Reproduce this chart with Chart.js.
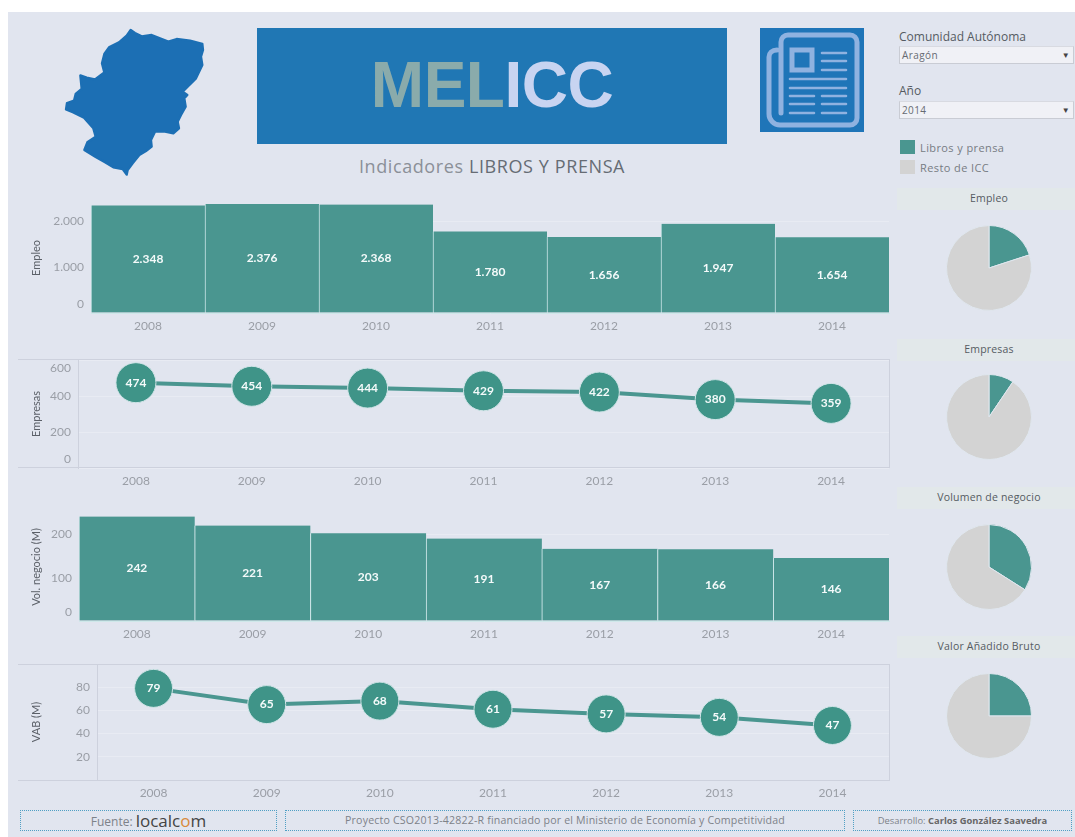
<!DOCTYPE html>
<html lang="es">
<head>
<meta charset="utf-8">
<script src="https://cdn.jsdelivr.net/npm/chart.js@4"></script>
<style>
html,body{margin:0;padding:0;background:#fff;width:1075px;height:837px;overflow:hidden}
#dash{position:absolute;left:8px;top:12px;width:1067px;height:825px;background:#e1e5ef}
.a{position:absolute;white-space:nowrap;font-family:Lato,sans-serif}
canvas{position:absolute}
.frame{position:absolute;left:18px;width:871px;border:1px solid #cdd1dd;border-left:none;box-sizing:content-box}
.band{position:absolute;left:897px;width:178px;height:22px;box-sizing:border-box;padding-left:6px;background:#e2e8ea;color:#555b62;font:10.5px "Open Sans",sans-serif;text-align:center;line-height:21px;letter-spacing:.2px}
.sel{position:absolute;left:899px;width:175px;height:18px;box-sizing:border-box;background:#f0f1f6;border:1px solid #c9ccd4;border-top-color:#d8dae1;font:10px "Open Sans",sans-serif;color:#666b72;line-height:16px;padding-left:2px;letter-spacing:.4px}
.sel b{position:absolute;right:3px;top:0;font-size:8px;font-weight:400;color:#444}
.foot{position:absolute;top:810px;height:21px;box-sizing:border-box;border:1px dotted #4f9fc4;text-align:center;font:10.6px/19px "Open Sans",sans-serif;color:#7d8289}
</style>
</head>
<body>
<div id="dash"></div>

<svg class="a" style="left:40px;top:15px" width="180" height="170" viewBox="0 0 540 510"><polygon fill="#1c6fb4" stroke="#1c6fb4" stroke-width="7" stroke-linejoin="round" points="272,45 285,54 305,64 335,60 360,70 385,80 410,72 450,77 487,87 489,105 483,125 487,150 468,190 443,215 428,230 442,240 433,250 437,275 423,300 413,320 417,340 400,355 375,350 345,350 333,375 335,395 318,408 298,420 278,445 263,465 260,479 248,462 220,457 195,442 167,426 133,405 142,382 167,365 160,340 132,308 100,292 78,283 81,264 102,257 107,237 125,222 121,181 140,188 165,193 193,172 186,145 193,117 207,97 237,82 260,62"/></svg>

<div class="a" style="left:257px;top:28px;width:470px;height:116px;background:#2077b4;text-align:center;font:bold 64px/114px 'Liberation Sans',sans-serif;letter-spacing:-.5px"><span style="color:#8aabab">MEL</span><span style="color:#c8d4f1">ICC</span></div>
<div class="a" style="left:257px;top:155px;width:470px;text-align:center;font:18px/22px 'Open Sans',sans-serif;letter-spacing:.6px;color:#8b9098">Indicadores <span style="color:#666c74">LIBROS Y PRENSA</span></div>

<svg class="a" style="left:760px;top:28px" width="104" height="104" viewBox="0 0 104 104">
<rect width="104" height="104" fill="#1f75b8"/>
<g fill="none" stroke="#8fb2e0" stroke-linecap="round">
<path stroke-width="5" d="M21 85V14a7 7 0 0 1 7-7h62a7 7 0 0 1 7 7v76a7 7 0 0 1-7 7H20c-6 0-11-5-11-11V29c0-4 3-7 8-7"/>
<rect x="32" y="22" width="20" height="20" stroke-width="5"/>
<path stroke-width="2.6" d="M62 25h24M62 33h24M62 42h24M30 51h56M30 60h56M30 68h24M62 68h24M30 76h24M62 76h24M30 85h24M62 85h24"/>
</g></svg>

<div class="a" style="left:899px;top:29px;font:12px/16px 'Open Sans',sans-serif;color:#555b62">Comunidad Autónoma</div>
<div class="sel" style="top:46px">Aragón<b>▼</b></div>
<div class="a" style="left:899px;top:83px;font:12px/16px 'Open Sans',sans-serif;color:#555b62">Año</div>
<div class="sel" style="top:101px">2014<b>▼</b></div>
<div class="a" style="left:900px;top:140px;width:15px;height:14px;background:#4a9690"></div>
<div class="a" style="left:900px;top:160px;width:15px;height:14px;background:#d3d3d3"></div>
<div class="a" style="left:920px;top:140px;font:11px/15px 'Open Sans',sans-serif;letter-spacing:.4px;color:#777c83">Libros y prensa</div>
<div class="a" style="left:920px;top:160px;font:11px/15px 'Open Sans',sans-serif;letter-spacing:.4px;color:#777c83">Resto de ICC</div>

<div class="band" style="top:188px">Empleo</div>
<div class="band" style="top:339px">Empresas</div>
<div class="band" style="top:487px">Volumen de negocio</div>
<div class="band" style="top:636px">Valor Añadido Bruto</div>

<div class="frame" style="top:359px;height:107px"></div>
<div class="frame" style="top:664px;height:115px"></div>

<div class="foot" style="left:20px;width:257px;font-size:12px">Fuente: <span style="font-size:17px;color:#444;vertical-align:-1px">localc<span style="color:#d98a3a">o</span>m</span></div>
<div class="foot" style="left:285px;width:560px;letter-spacing:.18px">Proyecto CSO2013-42822-R financiado por el Ministerio de Economía y Competitividad</div>
<div class="foot" style="left:853px;width:219px;font-size:9.4px">Desarrollo: <b style="color:#666">Carlos González Saavedra</b></div>

<canvas id="cEmpleo"></canvas>
<canvas id="cEmpresas"></canvas>
<canvas id="cVolumen"></canvas>
<canvas id="cVab"></canvas>
<canvas id="pEmpleo"></canvas>
<canvas id="pEmpresas"></canvas>
<canvas id="pVolumen"></canvas>
<canvas id="pVab"></canvas>

<script>
const years = ['2008','2009','2010','2011','2012','2013','2014'];
const empleo = [2348,2376,2368,1780,1656,1947,1654];
const empresas = [474,454,444,429,422,380,359];
const volumen = [242,221,203,191,167,166,146];
const vab = [79,65,68,61,57,54,47];
const empleoTicks = [0,1000,2000];
const empresasTicks = [0,200,400,600];
const volumenTicks = [0,100,200];
const vabTicks = [20,40,60,80];
const pieLabels = ['Libros y prensa','Resto de ICC'];
const pieEmpleo = [20,80];
const pieEmpresas = [9.5,90.5];
const pieVolumen = [34,66];
const pieVab = [25,75];

const TEAL='#4a9690', DOT='#3f9488', GREY='#d3d3d3', TICK='#9a9ea6', GRID='rgba(255,255,255,.25)';
const fmt = v => String(v).replace(/\B(?=(\d{3})+$)/g,'.');
const noPad = s => { s.paddingTop=s.paddingBottom=s.paddingLeft=s.paddingRight=0; };
const valueLabels = {id:'valueLabels',afterDatasetsDraw(c){
  const ctx=c.ctx, m=c.getDatasetMeta(0), bar=c.config.type==='bar';
  ctx.save();ctx.fillStyle='#f4fafa';ctx.font='bold 12px Lato,sans-serif';ctx.textAlign='center';ctx.textBaseline='middle';
  c.data.datasets[0].data.forEach((v,i)=>{const e=m.data[i];ctx.fillText(fmt(v),e.x,bar?(e.y+e.base)/2:e.y);});
  ctx.restore();
}};

function makeChart(id,type,title,values,ticks,cfg){
  const el=document.getElementById(id), L=28;
  el.style.left=L+'px';el.style.top=cfg.top+'px';
  el.width=890-L;el.height=cfg.h+26;
  const ds = type==='bar'
    ? {data:values,backgroundColor:TEAL,barPercentage:1,categoryPercentage:1,borderWidth:{left:1,right:0,top:0,bottom:0},borderColor:'#cfe8ea',borderSkipped:false}
    : {data:values,borderColor:TEAL,borderWidth:4,pointRadius:cfg.r,pointBackgroundColor:DOT,pointBorderColor:'#cfe3e6',pointBorderWidth:1,tension:0,clip:false};
  new Chart(el,{type,data:{labels:years,datasets:[ds]},plugins:[valueLabels],options:{
    responsive:false,animation:false,
    layout:{autoPadding:false,padding:{right:1}},
    plugins:{legend:{display:false},tooltip:{enabled:false}},
    scales:{
      x:{offset:true,grid:{display:false,drawTicks:false},border:cfg.axisLine?{display:false}:{color:'#cfe8ea'},
         ticks:{color:TICK,font:{family:'Lato',size:12},padding:6,maxRotation:0,autoSkip:false},
         afterFit(s){s.height=26;noPad(s);}},
      y:{min:cfg.min,max:cfg.max,afterBuildTicks(s){s.ticks=ticks.map(v=>({value:v}));},
         grid:{color:GRID,drawTicks:false},border:cfg.axisLine?{color:'#cdd1dd'}:{display:false},
         title:{display:true,text:title,color:'#5b6068',font:{family:'Lato',size:11},padding:{top:2,bottom:0}},
         ticks:{color:TICK,font:{family:'Lato',size:12,lineHeight:1.4},padding:7,autoSkip:false,
           callback(v){ if(cfg.nudgeUp===v) return [fmt(v),'']; if(cfg.nudgeDown===v) return ['',fmt(v)]; return fmt(v);} },
         afterFit(s){s.width=cfg.left-L;noPad(s);}}
    }}});
}
makeChart('cEmpleo','bar','Empleo',empleo,empleoTicks,{top:203,h:110,left:91,min:0,max:2400,nudgeUp:0});
makeChart('cEmpresas','line','Empresas',empresas,empresasTicks,{top:360,h:108,left:78,min:0,max:600,r:20,axisLine:true,nudgeUp:0,nudgeDown:600});
makeChart('cVolumen','bar','Vol. negocio (M)',volumen,volumenTicks,{top:513,h:108,left:79,min:0,max:250,nudgeUp:0});
makeChart('cVab','line','VAB (M)',vab,vabTicks,{top:664,h:116,left:97,min:0,max:100,r:19,axisLine:true});

function makePie(id,values,cy){
  const el=document.getElementById(id), S=86;
  el.width=S;el.height=S;el.style.left=(989-S/2)+'px';el.style.top=(cy-S/2)+'px';
  new Chart(el,{type:'pie',data:{labels:pieLabels,datasets:[{data:values,backgroundColor:[TEAL,GREY],borderColor:'#dfe6ee',borderWidth:1}]},
    options:{responsive:false,animation:false,layout:{padding:0},plugins:{legend:{display:false},tooltip:{enabled:false}}}});
}
makePie('pEmpleo',pieEmpleo,268);
makePie('pEmpresas',pieEmpresas,417);
makePie('pVolumen',pieVolumen,567);
makePie('pVab',pieVab,716);
</script>
</body>
</html>
